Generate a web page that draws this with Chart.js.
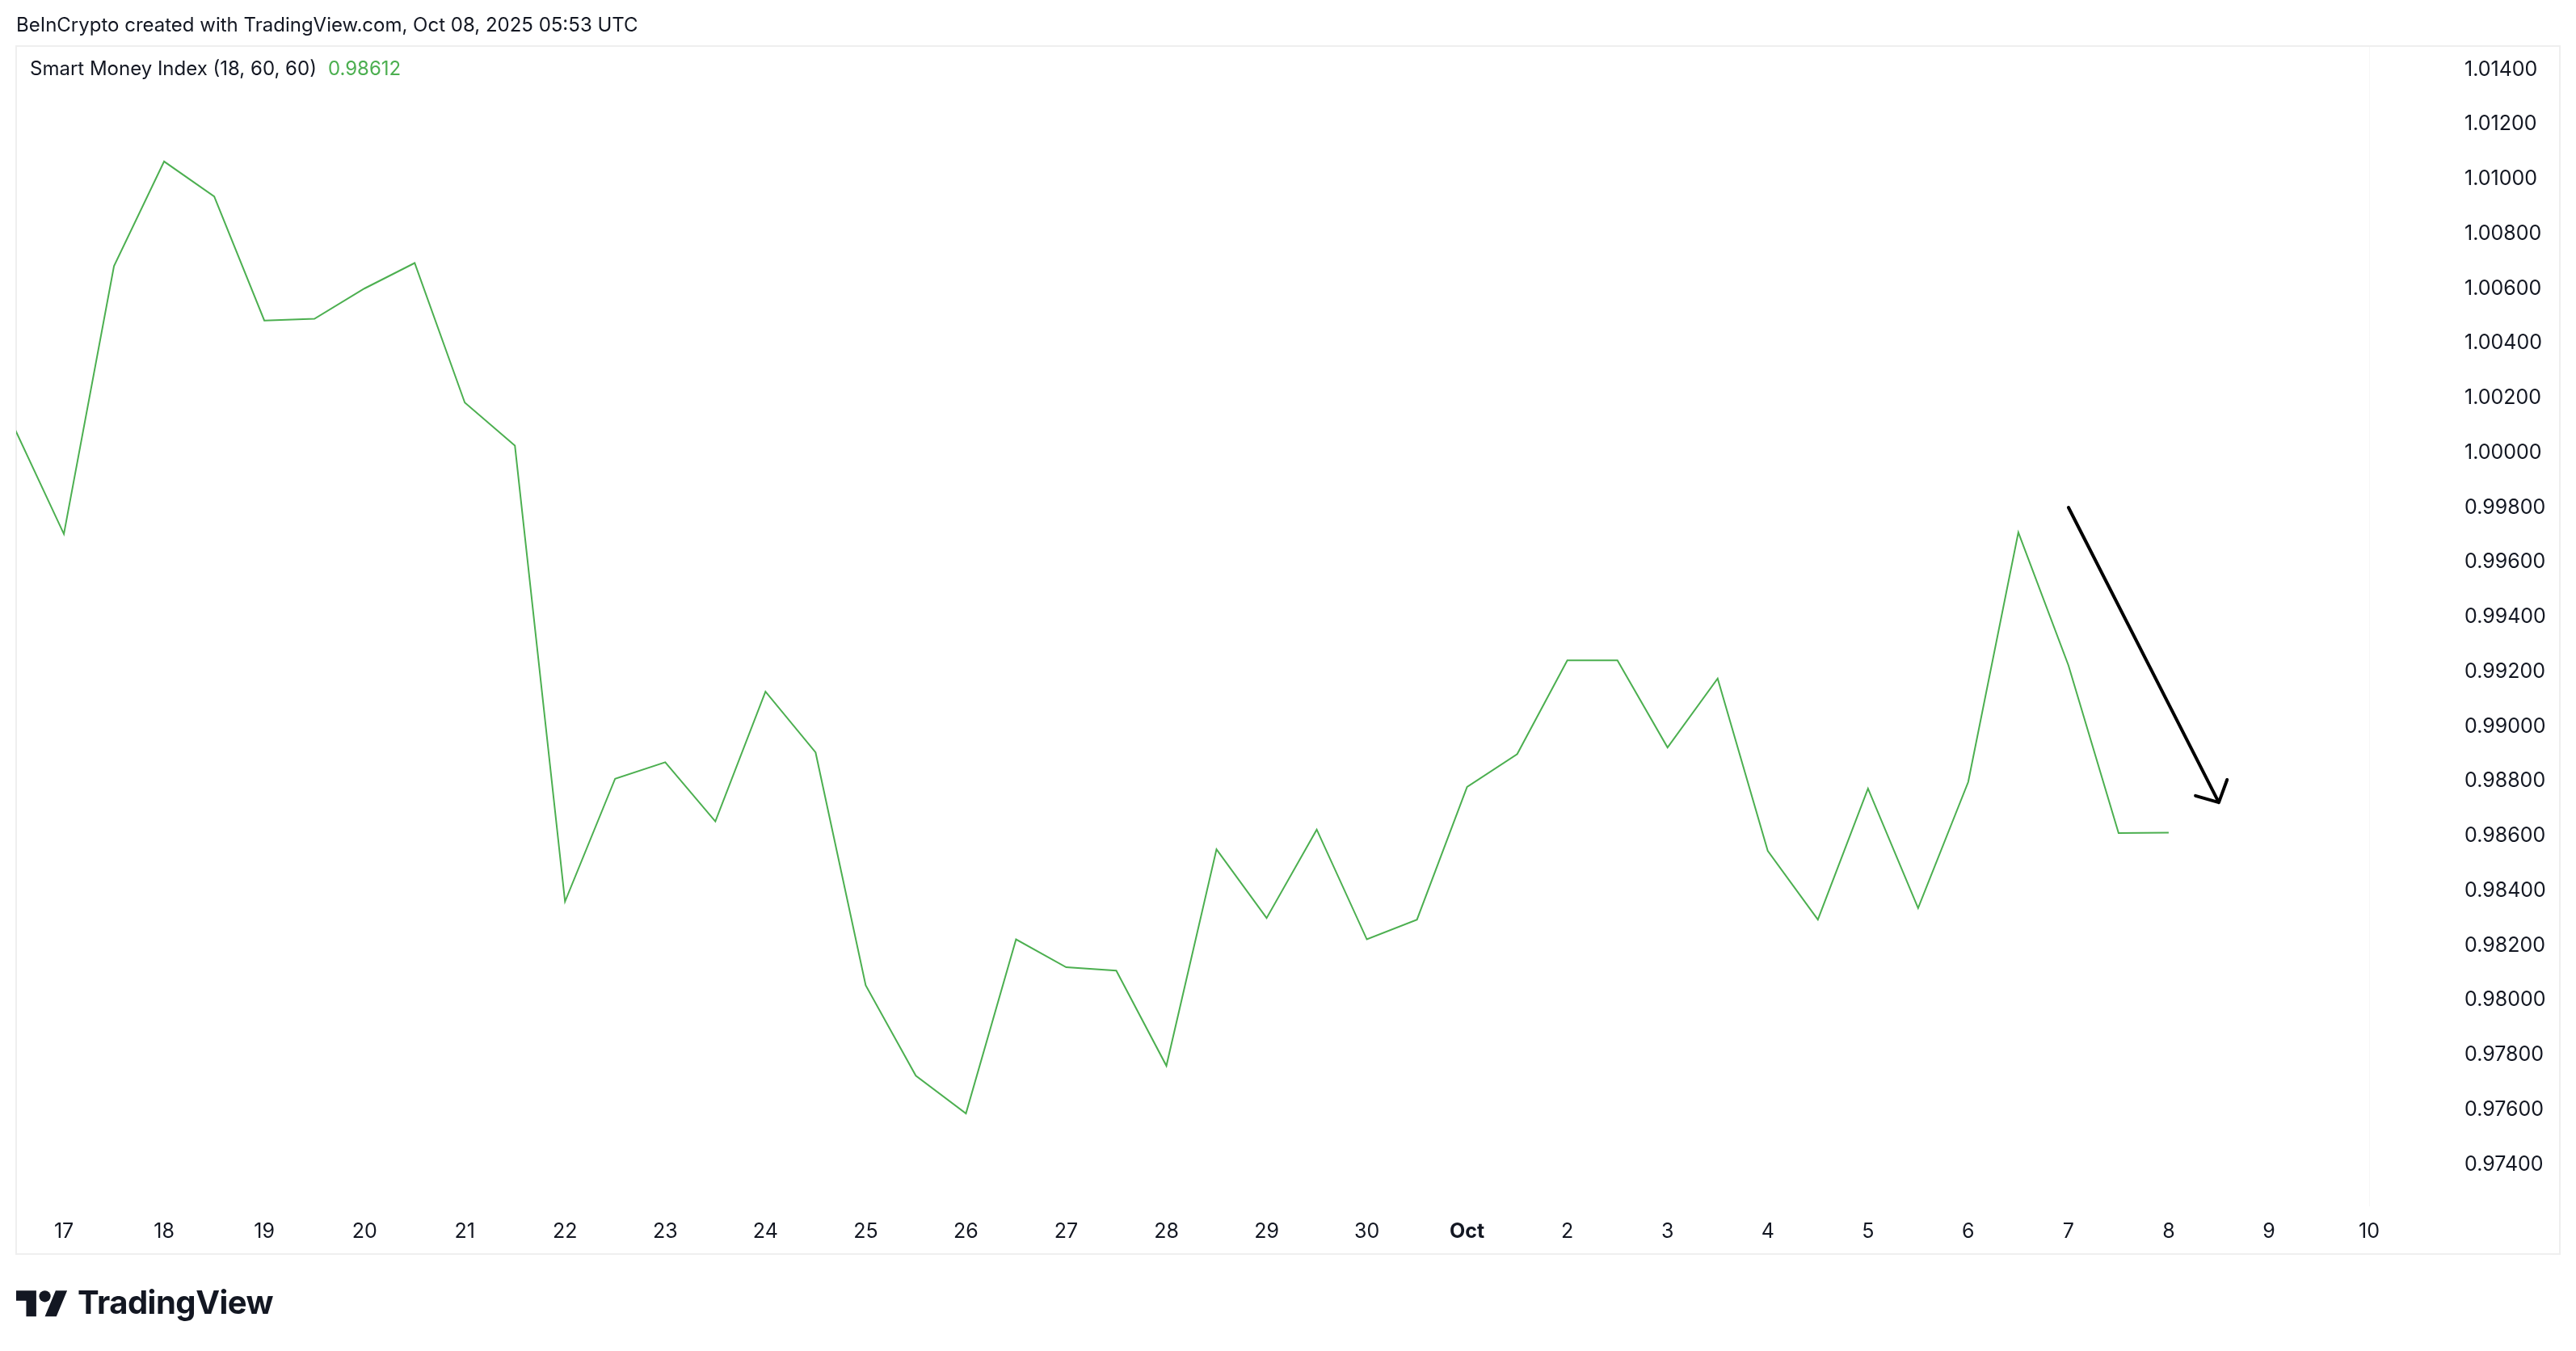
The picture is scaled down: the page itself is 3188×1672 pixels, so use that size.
<!DOCTYPE html>
<html>
<head>
<meta charset="utf-8">
<title>Smart Money Index</title>
<script src="https://cdn.jsdelivr.net/npm/chart.js@4.4.1/dist/chart.umd.min.js"></script>
<style>
  html, body { margin: 0; padding: 0; background: #fff; }
  #wrap { position: relative; width: 3188px; height: 1672px; overflow: hidden; }
  #chart { position: absolute; left: 0; top: 0; width: 3188px; height: 1672px; }
  .txt { position: absolute; font-family: Inter, "Noto Sans", sans-serif; color: #131722; white-space: nowrap; }
  #header { left: 20px; top: 17px; font-size: 24px; line-height: 28px; }
  #legend { left: 37px; top: 71px; font-size: 24px; line-height: 28px; }
  #legend .val { color: #4caf50; margin-left: 14px; }
  #logo { left: 20px; top: 1586px; height: 52px; }
  #logo svg { position: absolute; left: 0; top: 4px; }
  #logo span { position: absolute; left: 76px; top: 0; font-size: 40px; line-height: 52px; font-weight: 700; letter-spacing: -0.5px; }
</style>
</head>
<body>
<div id="wrap">
  <canvas id="chart" width="3188" height="1672"></canvas>
  <div id="header" class="txt">BeInCrypto created with TradingView.com, Oct 08, 2025 05:53 UTC</div>
  <div id="legend" class="txt">Smart Money Index (18, 60, 60)<span class="val" id="lastVal"></span></div>
  <div id="logo" class="txt">
    <svg width="64" height="50" viewBox="0 0 36 28"><path fill="#131722" d="M14 22H7V11H0V4h14v18zM28 22h-8l7.5-18h8L28 22z"/><circle fill="#131722" cx="20" cy="8" r="4"/></svg>
    <span>TradingView</span>
  </div>
</div>
<script>
// ===========================================
// DATA
// ===========================================

// 12h candles, first one at Sep 16 12:00 UTC (slightly left of the visible range)
const firstPointTime = Date.UTC(2025, 8, 16, 12);
const axisOrigin = Date.UTC(2025, 8, 17);   // x = 0 at Sep 17
const stepHours = 12;

// Smart Money Index (18, 60, 60)
const smiValues = [
    1.00095, 0.99703, 1.00682, 1.01064, 1.00936, 1.00483, 1.00489, 1.00600, 1.00693, 1.00183,
    1.00026, 0.98360, 0.98809, 0.98869, 0.98653, 0.99127, 0.98905, 0.98054, 0.97724, 0.97586,
    0.98222, 0.98120, 0.98108, 0.97760, 0.98551, 0.98300, 0.98623, 0.98222, 0.98294, 0.98779,
    0.98899, 0.99241, 0.99241, 0.98923, 0.99175, 0.98545, 0.98294, 0.98773, 0.98336, 0.98797,
    0.99709, 0.99223, 0.98610, 0.98612
];

// x tick labels, one per day starting Sep 17
const dayTickLabels = ['17', '18', '19', '20', '21', '22', '23', '24', '25', '26', '27', '28', '29', '30',
    'Oct', '2', '3', '4', '5', '6', '7', '8', '9', '10'];

// price scale ticks
const yTickValues = [0.974, 0.976, 0.978, 0.980, 0.982, 0.984, 0.986, 0.988, 0.990, 0.992, 0.994,
    0.996, 0.998, 1.000, 1.002, 1.004, 1.006, 1.008, 1.010, 1.012, 1.014];

// drawn arrow (day, value)
const arrowFrom = [20.0, 0.99800];
const arrowTo = [21.5, 0.98722];

// ===========================================
// STYLE
// ===========================================

const FONT = 'Inter, "Noto Sans", sans-serif';
const GREEN = '#4caf50';
const TEXT = '#131722';
const FRAME = '#efefef';

document.getElementById('lastVal').textContent = smiValues[smiValues.length - 1].toFixed(5);

const points = smiValues.map((v, i) => ({
    x: (firstPointTime + i * stepHours * 3600000 - axisOrigin) / 86400000,
    y: v
}));

// frame, separator and arrow
const decorPlugin = {
    id: 'decor',
    beforeDraw(chart) {
        const c = chart.ctx;
        c.save();
        c.fillStyle = '#fff';
        c.fillRect(0, 0, chart.width, chart.height);
        c.strokeStyle = FRAME;
        c.lineWidth = 2;
        c.strokeRect(20, 57, 3148, 1495);
        const a = chart.chartArea;
        c.strokeStyle = '#f6f6f6';
        c.lineWidth = 1;
        c.beginPath();
        c.moveTo(a.right + 0.5, 58);
        c.lineTo(a.right + 0.5, a.bottom);
        c.stroke();
        c.restore();
    },
    afterDatasetsDraw(chart) {
        const c = chart.ctx;
        const xs = chart.scales.x, ys = chart.scales.y;
        const x0 = xs.getPixelForValue(arrowFrom[0]), y0 = ys.getPixelForValue(arrowFrom[1]);
        const x1 = xs.getPixelForValue(arrowTo[0]), y1 = ys.getPixelForValue(arrowTo[1]);
        const back = Math.atan2(y0 - y1, x0 - x1);
        const len = 30, spread = 47 * Math.PI / 180;
        c.save();
        c.strokeStyle = '#000';
        c.lineWidth = 4;
        c.lineCap = 'round';
        c.lineJoin = 'round';
        c.beginPath();
        c.moveTo(x0, y0);
        c.lineTo(x1, y1);
        c.moveTo(x1 + len * Math.cos(back - spread), y1 + len * Math.sin(back - spread));
        c.lineTo(x1, y1);
        c.lineTo(x1 + len * Math.cos(back + spread), y1 + len * Math.sin(back + spread));
        c.stroke();
        c.restore();
    }
};

new Chart(document.getElementById('chart').getContext('2d'), {
    type: 'line',
    data: {
        datasets: [{
            data: points,
            borderColor: GREEN,
            borderWidth: 2,
            pointRadius: 0,
            tension: 0,
            fill: false
        }]
    },
    options: {
        responsive: false,
        animation: false,
        layout: { padding: { left: 20, top: 57, right: 20, bottom: 120 } },
        plugins: {
            legend: { display: false },
            tooltip: { enabled: false }
        },
        scales: {
            x: {
                type: 'linear',
                min: -0.476,
                max: 23.0,
                bounds: 'data',
                grid: { display: false, drawTicks: false },
                border: { display: false },
                afterBuildTicks: s => { s.ticks = dayTickLabels.map((_, i) => ({ value: i })); },
                afterFit: s => { s.height = 59; },
                ticks: {
                    autoSkip: false,
                    maxRotation: 0,
                    minRotation: 0,
                    padding: 16,
                    color: TEXT,
                    font: ctx => ({
                        family: FONT,
                        size: 25,
                        weight: (ctx.tick && dayTickLabels[ctx.tick.value] === 'Oct') ? '700' : '400'
                    }),
                    callback: v => dayTickLabels[v]
                }
            },
            y: {
                position: 'right',
                min: 0.972465,
                max: 1.014856,
                bounds: 'data',
                grid: { display: false, drawTicks: false },
                border: { display: false },
                afterBuildTicks: s => { s.ticks = yTickValues.map(v => ({ value: v })); },
                // fixed axis width; drop the label padding so the plot reaches the frame top
                afterFit: s => { s.width = 236; s.paddingTop = 0; s.paddingBottom = 0; },
                ticks: {
                    crossAlign: 'near',
                    padding: 118,
                    color: TEXT,
                    font: { family: FONT, size: 25 },
                    callback: v => v.toFixed(5)
                }
            }
        }
    },
    plugins: [decorPlugin]
});
</script>
</body>
</html>
